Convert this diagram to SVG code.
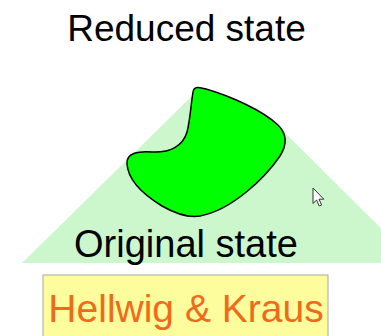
<svg xmlns="http://www.w3.org/2000/svg" width="381" height="336" viewBox="0 0 381 336">
<style>
.t{font-family:"Liberation Sans",Arial,sans-serif;text-anchor:middle;}
</style>
<rect width="381" height="336" fill="#ffffff"/>
<g id="original-region">
<polygon points="22,263 194,94 274,122 416,263" fill="#ccf7cc"/>
</g>
<g id="reduced-blob">
<path d="M193,92 C194,86 199,87 206,89 C230,96 262,110 278,125 C287,134 287,145 280,156 C265,178 232,210 200,216 C188,218 176,214 162,206 C144,195 128,180 127,164 C126,153 138,151 152,152 C170,153 183,146 187,132 C190,121 191,104 193,92 Z" fill="#00ff00" stroke="#000" stroke-width="1.5"/>
</g>
<g id="labels">
<text class="t" x="186.5" y="41" font-size="37">Reduced state</text>
<text class="t" x="186" y="257" font-size="38">Original state</text>
</g>
<g id="citation">
<rect x="43" y="275" width="285" height="70" fill="#fdfd9d" stroke="#a8a8a0" stroke-width="1"/>
<text class="t" x="186" y="322" font-size="39" fill="#f06a1c">Hellwig &amp; Kraus</text>
</g>
<g id="cursor">
<path d="M313,188 L313,203.5 L316.6,200 L319.2,206 L321.6,205 L319,199.2 L323.8,199.2 Z" fill="#ffffff" stroke="#333" stroke-width="1" stroke-linejoin="round"/>
</g>
</svg>
